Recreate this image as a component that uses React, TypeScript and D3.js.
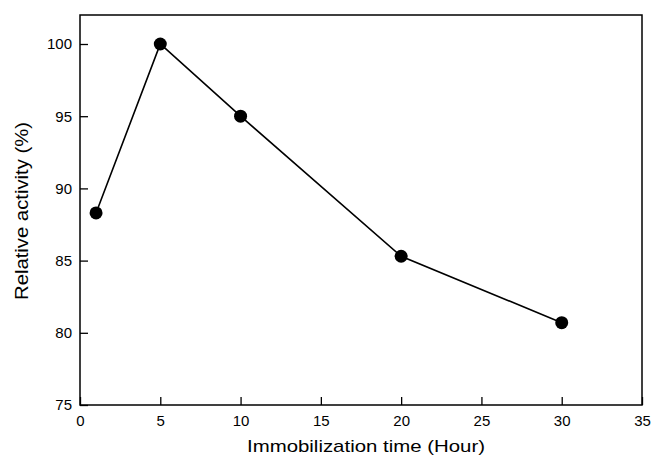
import React, { useEffect, useRef } from 'react';
import * as d3 from 'd3';

// immobilization time (hour) vs relative activity (%)
const hours = [1, 5, 10, 20, 30];
const activity = [88.3, 100, 95, 85.3, 80.7];
const xTicks = [0, 5, 10, 15, 20, 25, 30, 35];
const yTicks = [75, 80, 85, 90, 95, 100];

const W = 653;
const H = 458;
const left = 80;
const right = 642;
const top = 15;
const bottom = 405;
const font = '"Liberation Sans", Arial, sans-serif';

export default function App() {
  const ref = useRef<SVGSVGElement>(null);

  useEffect(() => {
    const svg = d3.select(ref.current);
    svg.selectAll('*').remove();

    const x = d3.scaleLinear().domain([0, 35]).range([left, right]);
    const y = d3.scaleLinear().domain([75, 100]).range([bottom, 44]);

    // frame
    svg.append('rect')
      .attr('x', left).attr('y', top)
      .attr('width', right - left).attr('height', bottom - top)
      .attr('fill', 'none').attr('stroke', '#000').attr('stroke-width', 1.5);

    const yAxis = svg.append('g')
      .attr('transform', `translate(${left},0)`)
      .call(d3.axisLeft(y).tickValues(yTicks).tickSize(-8).tickPadding(8).tickSizeOuter(0));
    const xAxis = svg.append('g')
      .attr('transform', `translate(0,${bottom})`)
      .call(d3.axisBottom(x).tickValues(xTicks).tickSize(-8).tickPadding(10).tickSizeOuter(0));

    [yAxis, xAxis].forEach(g => {
      g.select('.domain').remove();
      g.selectAll('line').attr('stroke', '#000').attr('stroke-width', 1.3);
      g.selectAll('text')
        .attr('fill', '#000')
        .style('font-family', font)
        .style('font-size', '15px');
    });

    const line = d3.line<number>()
      .x((d, i) => x(hours[i]))
      .y(d => y(d));

    svg.append('path')
      .datum(activity)
      .attr('fill', 'none')
      .attr('stroke', '#000')
      .attr('stroke-width', 1.6)
      .attr('d', line);

    svg.selectAll('circle.pt')
      .data(activity)
      .enter()
      .append('circle')
      .attr('class', 'pt')
      .attr('cx', (d, i) => x(hours[i]))
      .attr('cy', d => y(d))
      .attr('r', 6.5)
      .attr('fill', '#000');

    svg.append('text')
      .attr('x', 366)
      .attr('y', 452)
      .attr('text-anchor', 'middle')
      .attr('textLength', 238)
      .attr('lengthAdjust', 'spacingAndGlyphs')
      .style('font-family', font)
      .style('font-size', '17px')
      .text('Immobilization time (Hour)');

    svg.append('text')
      .attr('transform', `translate(28,211) rotate(-90)`)
      .attr('text-anchor', 'middle')
      .attr('textLength', 178)
      .attr('lengthAdjust', 'spacingAndGlyphs')
      .style('font-family', font)
      .style('font-size', '18px')
      .text('Relative activity (%)');
  }, []);

  return (
    <svg
      ref={ref}
      width={W}
      height={H}
      style={{ position: 'absolute', left: 0, top: 0, background: '#fff' }}
    />
  );
}
